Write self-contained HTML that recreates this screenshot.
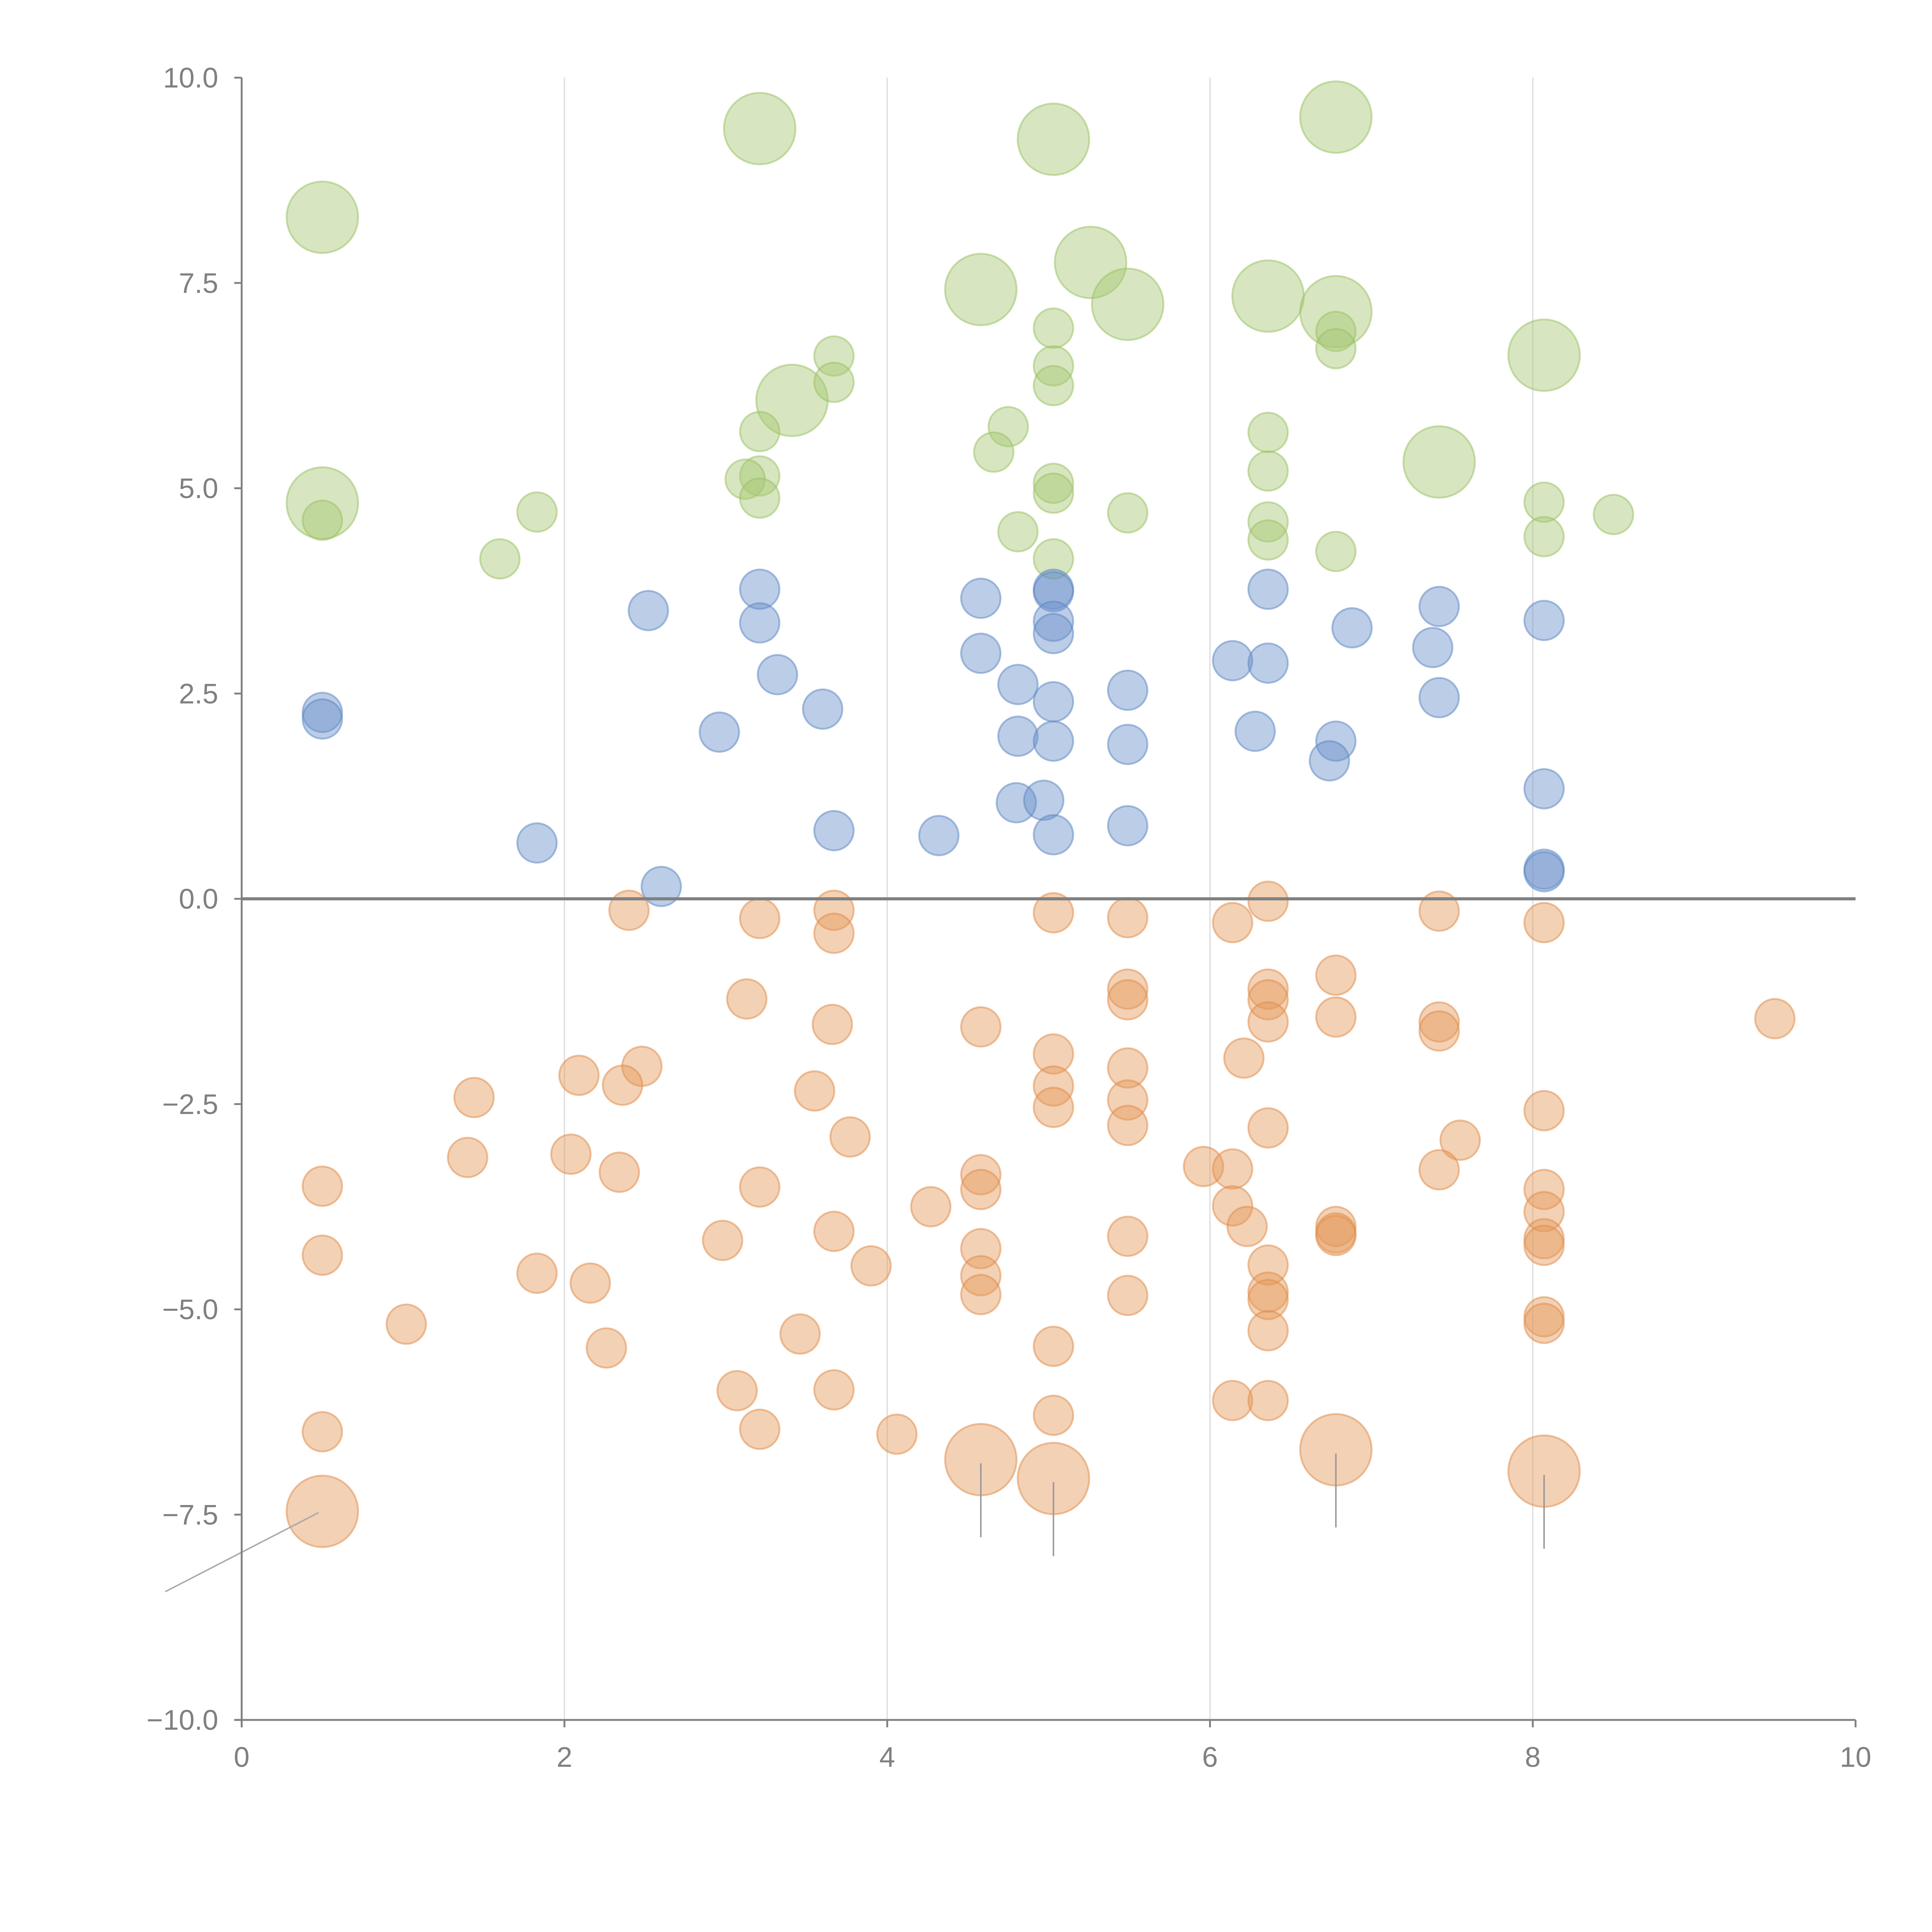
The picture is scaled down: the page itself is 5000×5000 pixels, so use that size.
<!DOCTYPE html>
<html><head><meta charset="utf-8"><style>
html,body{margin:0;padding:0;background:#fff}
svg{display:block}
text{font-family:"Liberation Sans",Arial,sans-serif;fill:#808080}
</style></head><body>
<svg id="chart" width="5000" height="5000" viewBox="0 0 1567 1567" xmlns="http://www.w3.org/2000/svg">
<g id="grid"></g>
<g id="marks"></g>
<g id="axes"></g>
</svg>
<script>
const greenX=[0.5,3.21,5.03,6.78,5.26,4.58,5.49,6.36,6.78,8.07,3.41,7.42,0.5,5.03,6.78,6.78,3.67,5.03,3.67,5.03,4.75,3.21,6.36,4.66,6.36,3.21,3.12,5.03,5.03,3.21,0.5,1.83,5.49,8.50,8.07,6.36,4.81,8.07,6.36,6.78,5.03,1.60];
const greenY=[8.30,9.38,9.25,9.52,7.75,7.42,7.24,7.34,7.15,6.62,6.07,5.32,4.82,6.95,6.91,6.70,6.61,6.49,6.29,6.25,5.75,5.69,5.68,5.44,5.21,5.15,5.11,5.06,4.94,4.88,4.61,4.71,4.70,4.68,4.83,4.59,4.47,4.41,4.37,4.23,4.14,4.14];
const greenS=[2,2,2,2,2,2,2,2,2,2,2,2,2,1,1,1,1,1,1,1,1,1,1,1,1,1,1,1,1,1,1,1,1,1,1,1,1,1,1,1,1,1];
const blueX=[0.5,0.5,2.52,3.21,3.21,3.32,3.60,2.96,1.83,2.60,3.67,4.32,4.58,4.58,4.81,4.81,4.80,4.97,5.03,5.03,5.03,5.03,5.03,5.03,5.03,5.49,5.49,5.49,6.14,6.36,6.36,6.28,6.88,6.78,6.74,7.38,7.42,7.42,8.07,8.07,8.07,8.07];
const blueY=[2.27,2.19,3.51,3.77,3.36,2.73,2.31,2.03,0.68,0.15,0.83,0.77,3.66,2.99,2.61,1.98,1.17,1.20,3.77,3.74,3.38,3.23,2.40,1.92,0.78,2.54,1.88,0.89,2.90,3.77,2.87,2.04,3.30,1.92,1.68,3.06,3.56,2.45,3.39,1.34,0.36,0.33];
const orangeX=[0.5,4.58,5.03,6.78,8.07,2.40,3.21,3.67,3.67,3.13,3.66,2.48,2.09,2.36,1.44,3.55,3.77,1.40,2.04,2.34,0.5,3.21,0.5,2.98,3.67,4.27,3.90,1.83,2.16,1.02,3.46,2.26,3.07,3.67,0.5,3.21,4.06,4.58,4.58,4.58,4.58,4.58,4.58,5.03,5.03,5.03,5.03,5.03,5.03,5.49,5.49,5.49,5.49,5.49,5.49,5.49,5.49,5.96,6.14,6.21,6.14,6.14,6.23,6.14,6.36,6.36,6.36,6.36,6.36,6.36,6.36,6.36,6.36,6.36,6.78,6.78,6.78,6.78,6.78,7.42,7.42,7.42,7.55,7.42,8.07,8.07,8.07,8.07,8.07,8.07,8.07,8.07,9.50];
const orangeY=[-7.46,-6.83,-7.06,-6.71,-6.97,-0.14,-0.24,-0.14,-0.42,-1.22,-1.53,-2.04,-2.15,-2.27,-2.42,-2.34,-2.90,-3.15,-3.11,-3.33,-3.50,-3.51,-4.34,-4.16,-4.05,-3.75,-4.47,-4.56,-4.68,-5.18,-5.30,-5.47,-5.99,-5.98,-6.49,-6.46,-6.52,-1.56,-3.36,-3.54,-4.26,-4.59,-4.82,-0.17,-1.89,-2.28,-2.54,-5.45,-6.29,-0.23,-1.10,-1.23,-2.06,-2.45,-2.76,-4.11,-4.83,-3.26,-0.29,-1.94,-3.29,-3.74,-3.99,-6.11,-0.03,-1.10,-1.23,-1.50,-2.79,-4.46,-4.79,-4.88,-5.26,-6.11,-0.93,-1.44,-3.99,-4.07,-4.10,-0.15,-1.50,-1.61,-2.94,-3.30,-0.29,-2.58,-3.54,-3.81,-4.14,-4.22,-5.09,-5.17,-1.46];
const orangeS=[2,2,2,2,2];
const xTicks=[0,2,4,6,8,10];
const yTicks=[-10,-7.5,-5,-2.5,0,2.5,5,7.5,10];
const yTickLabels=["\u221210.0","\u22127.5","\u22125.0","\u22122.5","0.0","2.5","5.0","7.5","10.0"];

const NS="http://www.w3.org/2000/svg";
const X0=196,X1=1505,Y0=1395,Y1=63;
function sx(v){return X0+(v-0)/(10-0)*(X1-X0);}
function sy(v){return Y0-(v+10)/20*(Y0-Y1);}
function rs(s){return s===2?29:16;}
function mk(tag,attrs,parent){const e=document.createElementNS(NS,tag);for(const k in attrs)e.setAttribute(k,attrs[k]);parent.appendChild(e);return e;}
const grid=document.getElementById('grid'),marks=document.getElementById('marks'),axes=document.getElementById('axes');

xTicks.forEach(t=>{if(t>0&&t<10){const l=mk('line',{x1:sx(t),x2:sx(t),y1:Y1,y2:Y0,stroke:'#dcdcdc','stroke-width':1},grid);

}});

function series(xs,ys,ss,fill,stroke,name){
  xs.forEach((x,i)=>{const c=mk('circle',{cx:sx(x),cy:sy(ys[i]),r:rs(ss[i]||1),fill:fill,'fill-opacity':0.45,stroke:stroke,'stroke-opacity':0.5,'stroke-width':1.5},marks);
  
  });
}
series(greenX,greenY,greenS,'#a6c774','#98bf60','green-bubble');
series(blueX,blueY,[],'#6a91ca','#5a85c2','blue-bubble');
series(orangeX,orangeY,orangeS,'#e5995a','#e08a45','orange-bubble');

[1,2,3,4].forEach(i=>{const x=sx(orangeX[i]),y=sy(orangeY[i]);
const l=mk('line',{x1:x,x2:x,y1:y+3,y2:y+63,stroke:'#999','stroke-width':1.2},marks);

});
{const x=sx(orangeX[0]),y=sy(orangeY[0]);const l=mk('line',{x1:x-3,y1:y+1,x2:134,y2:1291,stroke:'#aaa','stroke-width':1.2},marks);

}

const zl=mk('line',{x1:X0,x2:X1,y1:sy(0),y2:sy(0),stroke:'#808080','stroke-width':2.5},axes);


const ya=mk('line',{x1:X0,x2:X0,y1:Y1,y2:Y0+6,stroke:'#808080','stroke-width':1.5},axes);


const xa=mk('line',{x1:X0-6,x2:X1,y1:Y0,y2:Y0,stroke:'#808080','stroke-width':1.5},axes);


yTicks.forEach((t,i)=>{const y=sy(t);
const tk=mk('line',{x1:X0-6,x2:X0,y1:y,y2:y,stroke:'#808080','stroke-width':1.5},axes);


const tx=mk('text',{x:X0-19,y:y+8,'text-anchor':'end','font-size':23},axes);tx.textContent=yTickLabels[i];

});
xTicks.forEach(t=>{const x=sx(t);
const tk=mk('line',{x1:x,x2:x,y1:Y0,y2:Y0+6,stroke:'#808080','stroke-width':1.5},axes);


const tx=mk('text',{x:x,y:Y0+38,'text-anchor':'middle','font-size':23},axes);tx.textContent=String(t);

});
</script>
</body></html>
